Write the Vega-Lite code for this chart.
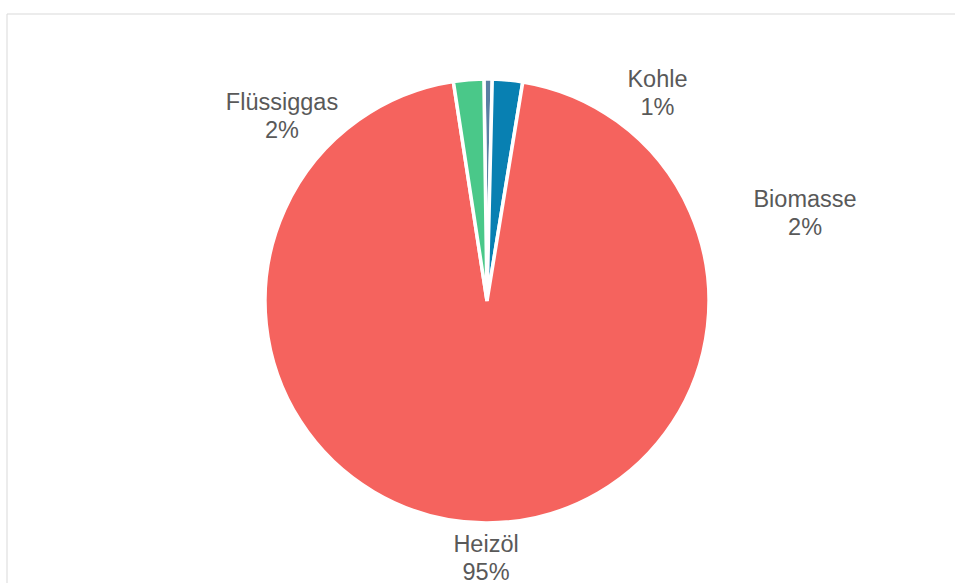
{
  "$schema": "https://vega.github.io/schema/vega-lite/v6.json",
  "width": 961,
  "height": 575,
  "autosize": {"type": "none"},
  "padding": {"left": 6.5, "top": 13.5, "right": 0, "bottom": 0},
  "background": "white",
  "view": {"stroke": "#d9d9d9", "strokeWidth": 1, "fill": "white", "style": "cell"},
  "config": {"view": {"stroke": "#d9d9d9", "strokeWidth": 1}, "font": "Liberation Sans"},
  "data": {
    "values": [
      {"Energietraeger": "Kohle", "Anteil": 0.006},
      {"Energietraeger": "Biomasse", "Anteil": 0.022},
      {"Energietraeger": "Heizöl", "Anteil": 0.95},
      {"Energietraeger": "Flüssiggas", "Anteil": 0.022}
    ]
  },
  "transform": [
    {"window": [{"op": "row_number", "as": "nr"}]},
    {"calculate": "[datum.Energietraeger, format(datum.Anteil, '.0%')]", "as": "label"}
  ],
  "encoding": {
    "theta": {"field": "Anteil", "type": "quantitative", "stack": true, "scale": {"range": [-0.014, 6.2692]}},
    "order": {"field": "nr", "type": "quantitative", "sort": "ascending"},
    "detail": {"field": "Energietraeger", "type": "nominal"}
  },
  "layer": [
    {
      "mark": {"type": "arc", "outerRadius": 222, "stroke": "white", "strokeWidth": 3.5},
      "encoding": {
        "color": {
          "field": "Energietraeger",
          "type": "nominal",
          "scale": {"domain": ["Kohle", "Biomasse", "Heizöl", "Flüssiggas"], "range": ["#5a7fa3", "#0880b2", "#f5635e", "#4ac889"]},
          "legend": null
        }
      }
    },
    {
      "mark": {"type": "text", "radius": 240, "dx": 169.3, "dy": 19, "fontSize": 23.5, "lineHeight": 28, "fill": "#595959", "align": "center", "baseline": "middle"},
      "encoding": {"text": {"condition": {"test": "datum.Energietraeger == 'Kohle'", "field": "label"}, "value": ""}}
    },
    {
      "mark": {"type": "text", "radius": 240, "dx": 295.8, "dy": 137.5, "fontSize": 23.5, "lineHeight": 28, "fill": "#595959", "align": "center", "baseline": "middle"},
      "encoding": {"text": {"condition": {"test": "datum.Energietraeger == 'Biomasse'", "field": "label"}, "value": ""}}
    },
    {
      "mark": {"type": "text", "radius": 240, "dx": 0.2, "dy": 4, "fontSize": 23.5, "lineHeight": 28, "fill": "#595959", "align": "center", "baseline": "middle"},
      "encoding": {"text": {"condition": {"test": "datum.Energietraeger == 'Heizöl'", "field": "label"}, "value": ""}}
    },
    {
      "mark": {"type": "text", "radius": 240, "dx": -185.1, "dy": 41.5, "fontSize": 23.5, "lineHeight": 28, "fill": "#595959", "align": "center", "baseline": "middle"},
      "encoding": {"text": {"condition": {"test": "datum.Energietraeger == 'Flüssiggas'", "field": "label"}, "value": ""}}
    }
  ]
}
